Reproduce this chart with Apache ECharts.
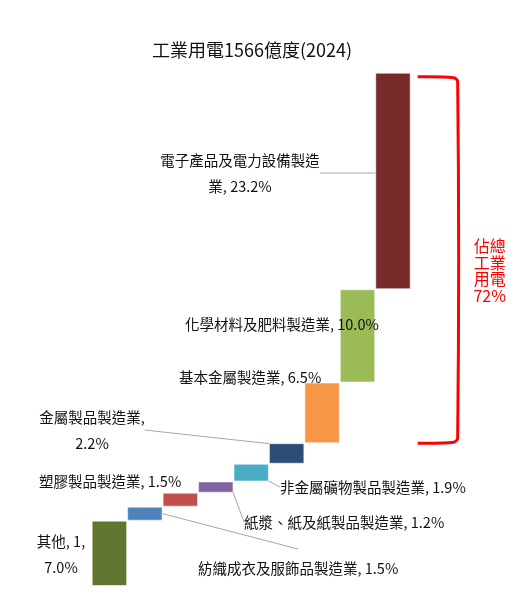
<!DOCTYPE html>
<html>
<head>
<meta charset="utf-8">
<script src="https://cdn.jsdelivr.net/npm/echarts@6/dist/echarts.min.js"></script>
<style>
  html, body { margin: 0; padding: 0; background: #fff; }
  #main { width: 529px; height: 602px; }
</style>
</head>
<body>
<div id="main"></div>
<script>
// 各產業用電占比 (%)
var categories = ['其他, 1', '紡織成衣及服飾品製造業', '塑膠製品製造業', '紙漿、紙及紙製品製造業',
  '非金屬礦物製品製造業', '金屬製品製造業', '基本金屬製造業', '化學材料及肥料製造業', '電子產品及電力設備製造業'];
var values = [7.0, 1.5, 1.5, 1.2, 1.9, 2.2, 6.5, 10.0, 23.2];
var titleText = '工業用電1566億度(2024)';
var noteText = '佔總\n工業\n用電\n72%';

var colors = ['#5F7530', '#4F81BD', '#C0504D', '#8064A2', '#4BACC6', '#2C4D75', '#F79646', '#9BBB59', '#772C2A'];
// 標籤位置: [x, y, 對齊, 換行位置, 是否畫引線]
var labelPos = [
  [61, 554, 'center', 6, false],
  [198, 568, 'left', null, false],
  [39, 481, 'left', null, false],
  [244, 522, 'left', null, true],
  [280, 487, 'left', null, true],
  [92, 430, 'center', 8, true],
  [179, 377, 'left', null, false],
  [185, 324, 'left', null, false],
  [240, 173, 'center', 11, true]
];

var font = '"Noto Sans CJK TC", "Noto Sans", sans-serif';

// 瀑布圖底座
var base = [];
var acc = 0;
values.forEach(function (v) { base.push(+acc.toFixed(1)); acc += v; });
var total = acc;

var chart = echarts.init(document.getElementById('main'));

var option = {
  animation: false,
  title: {
    text: titleText,
    left: 147,
    top: 36,
    textStyle: { fontFamily: font, fontSize: 18, fontWeight: 'normal', color: '#111' }
  },
  grid: { left: 91.7, right: 118.3, top: 72.7, bottom: 16 },
  xAxis: {
    type: 'category',
    data: categories,
    show: false
  },
  yAxis: {
    type: 'value',
    min: 0,
    max: 55,
    show: false
  },
  series: [{
    name: 'base',
    type: 'bar',
    stack: 'w',
    barCategoryGap: '0%',
    itemStyle: { color: 'transparent' },
    data: base,
    silent: true
  }, {
    name: 'value',
    type: 'bar',
    stack: 'w',
    barCategoryGap: '0%',
    data: values.map(function (v, i) {
      return {
        value: v,
        itemStyle: { color: colors[i] },
        labelLine: { show: labelPos[i][4] }
      };
    }),
    itemStyle: { borderColor: 'rgba(255,255,255,0.55)', borderWidth: 1 },
    label: {
      show: true,
      fontFamily: font,
      fontSize: 14.5,
      lineHeight: 26,
      color: '#111',
      formatter: function (p) {
        var s = categories[p.dataIndex] + ', ' + values[p.dataIndex].toFixed(1) + '%';
        var b = labelPos[p.dataIndex][3];
        if (b != null) s = s.slice(0, b).trim() + '\n' + s.slice(b).trim();
        return s;
      }
    },
    labelLine: {
      show: true,
      lineStyle: { color: '#a6a6a6', width: 1 }
    },
    labelLayout: function (p) {
      var lp = labelPos[p.dataIndex];
      return { x: lp[0], y: lp[1], align: lp[2], verticalAlign: 'middle' };
    }
  }]
};

chart.setOption(option);

// 紅色括號：由電子業頂端到基本金屬底部
var band = 35.4;
var right = chart.convertToPixel({ gridIndex: 0 }, [8, 0])[0] + band / 2;
var yTop = chart.convertToPixel({ gridIndex: 0 }, [0, total])[1] + 4;
var yBot = chart.convertToPixel({ gridIndex: 0 }, [0, base[6]])[1];
var x0 = right + 7, x1 = right + 47;

// 紡織業引線：由藍色長條右側拉到標籤上方
var tx = chart.convertToPixel({ gridIndex: 0 }, [1, base[1] + values[1] / 2]);

chart.setOption({
  graphic: [{
    type: 'polyline',
    shape: {
      points: [[x0, yTop], [x1 - 4, yTop + 1], [x1, yTop + 5], [x1, yBot - 5], [x1 - 4, yBot - 1], [x0, yBot]],
      smooth: 0.3
    },
    style: { fill: null, stroke: '#ff0000', lineWidth: 3 }
  }, {
    type: 'line',
    shape: { x1: tx[0] + band / 2, y1: tx[1], x2: 298, y2: 549 },
    style: { stroke: '#a6a6a6', lineWidth: 1 }
  }, {
    type: 'text',
    x: x1 + 32,
    y: 238,
    style: {
      text: noteText,
      fill: '#ff0000',
      font: '16px ' + font,
      lineHeight: 16.5,
      align: 'center'
    }
  }]
});
</script>
</body>
</html>
